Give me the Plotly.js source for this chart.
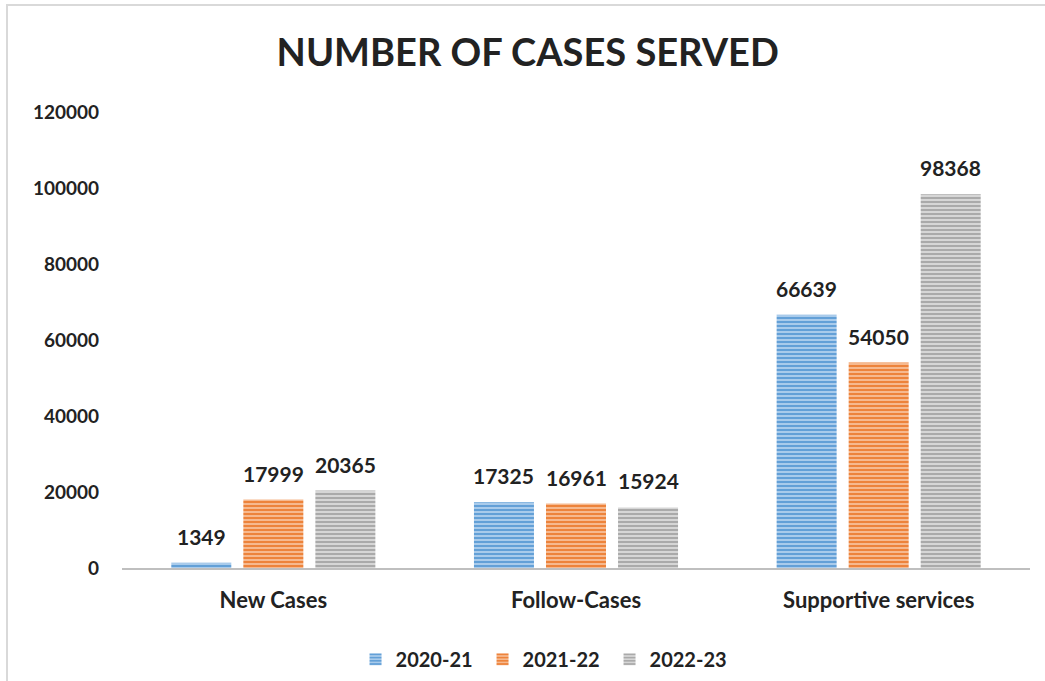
<!DOCTYPE html>
<html>
<head>
<meta charset="utf-8">
<script src="https://cdn.plot.ly/plotly-3.0.1.min.js"></script>
<style>
html,body{margin:0;padding:0;background:#fff;}
#wrap{position:absolute;left:0;top:0;width:1045px;height:681px;}
#frame{position:absolute;left:6px;top:4px;width:1039px;height:677px;border-left:2px solid #d9d9d9;border-top:2px solid #d9d9d9;box-sizing:border-box;pointer-events:none;}
#chart{position:absolute;left:0;top:0;width:1045px;height:681px;}
</style>
</head>
<body>
<div id="wrap"><div id="chart"></div><div id="frame"></div></div>
<script>
const categories = ["New Cases", "Follow-Cases", "Supportive services"];
const seriesNames = ["2020-21", "2021-22", "2022-23"];
const values2020 = [1349, 17325, 66639];
const values2021 = [17999, 16961, 54050];
const values2022 = [20365, 15924, 98368];
const yTicks = [0, 20000, 40000, 60000, 80000, 100000, 120000];

const fg = ["#5b9bd5", "#ed7d31", "#a5a5a5"];
const bg = ["#a9cbeb", "#f6b98f", "#d6d6d6"];
const allValues = [values2020, values2021, values2022];
const font = "Lato, 'Open Sans', sans-serif";

const W = 1045, H = 681;
const margin = {l: 122, r: 15, t: 112, b: 113, autoexpand: false};
const bargap = 0.286, bargroupgap = 0.167;

const traces = allValues.map((vals, i) => ({
  type: "bar",
  name: seriesNames[i],
  x: categories,
  y: vals,
  marker: {
    color: bg[i],
    line: {width: 0},
    pattern: {shape: "-", fgcolor: fg[i], bgcolor: bg[i], size: 4, solidity: 0.45, fillmode: "replace"}
  },
  hoverinfo: "x+y"
}));

// data labels as annotations, shifted to each bar's slot in the group
const plotW = W - margin.l - margin.r;
const slotPx = plotW / categories.length * (1 - bargap) / allValues.length;
const annotations = [];
allValues.forEach((vals, i) => {
  vals.forEach((v, j) => {
    annotations.push({
      x: categories[j], y: v, xref: "x", yref: "y",
      text: "<b>" + v + "</b>", showarrow: false,
      xanchor: "center", yanchor: "bottom",
      xshift: (i - 1) * slotPx, yshift: 12,
      font: {family: font, size: 21, color: "#222"}
    });
  });
});

const layout = {
  width: W, height: H,
  paper_bgcolor: "#fff", plot_bgcolor: "#fff",
  margin: margin,
  title: {text: "<b>NUMBER OF CASES SERVED</b>", x: 0.505, xanchor: "center", y: 0.923, yanchor: "middle",
          font: {family: font, size: 38, color: "#222"}},
  barmode: "group",
  bargap: bargap,
  bargroupgap: bargroupgap,
  showlegend: true,
  legend: {orientation: "h", x: 0.467, xanchor: "center", y: -0.2, yanchor: "middle",
           font: {family: font, size: 20, color: "#222", weight: 700},
           entrywidth: 82, entrywidthmode: "pixels", itemwidth: 30, traceorder: "normal"},
  xaxis: {showline: true, linecolor: "#bfbfbf", linewidth: 2, ticks: "", showgrid: false,
          tickfont: {family: font, size: 22, color: "#222", weight: 700}, ticklabelstandoff: 12},
  yaxis: {range: [0, 120000], tickvals: yTicks, ticktext: yTicks.map(String), showgrid: false, zeroline: false,
          showline: false, ticks: "", tickfont: {family: font, size: 19, color: "#222", weight: 700}, ticklabelstandoff: 22},
  annotations: annotations
};

Plotly.newPlot("chart", traces, layout, {displayModeBar: false, staticPlot: true});
</script>
</body>
</html>
